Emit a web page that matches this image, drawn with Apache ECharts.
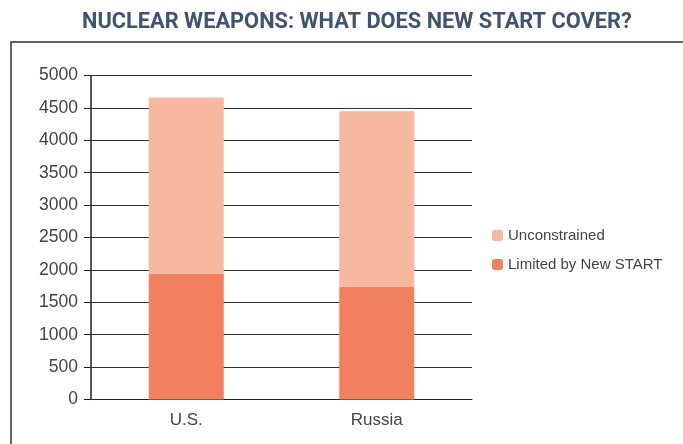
<!DOCTYPE html>
<html>
<head>
<meta charset="utf-8">
<script src="https://cdn.jsdelivr.net/npm/echarts@6/dist/echarts.min.js"></script>
<style>
 html, body { margin: 0; padding: 0; background: #fff; }
 #chart { width: 683px; height: 444px; }
</style>
</head>
<body>
<div id="chart"></div>
<script>
// data
const countries = ['U.S.', 'Russia']
const limited = [1945, 1740]
const unconstrained = [2715, 2710]
const yTicks = [0, 500, 1000, 1500, 2000, 2500, 3000, 3500, 4000, 4500, 5000]

const chart = echarts.init(document.getElementById('chart'))
const option = {
 animation: false,
 title: {
  text: 'NUCLEAR WEAPONS: WHAT DOES NEW START COVER?',
  left: 77,
  top: 7,
  textStyle: {
   fontFamily: 'Roboto',
   fontWeight: 'bold',
   fontSize: 21.8,
   color: '#3e5470'
  }
 },
 graphic: [{
  type: 'rect',
  shape: { x: 11, y: 42, width: 700, height: 420 },
  style: { fill: 'none', stroke: '#333', lineWidth: 1.5 },
  silent: true
 }],
 legend: {
  orient: 'vertical',
  left: 487,
  top: 223,
  itemWidth: 11,
  itemHeight: 11,
  itemGap: 14,
  data: ['Unconstrained', 'Limited by New START'],
  textStyle: { fontFamily: 'Liberation Sans', fontSize: 15, color: '#444' }
 },
 grid: {
  left: 91,
  right: 211,
  top: 75.5,
  bottom: 44.5
 },
 xAxis: {
  type: 'category',
  data: countries,
  axisLine: { show: true, lineStyle: { color: '#222', width: 1 } },
  axisTick: { show: false },
  axisLabel: { fontFamily: 'Liberation Sans', fontSize: 17, color: '#444', margin: 12 }
 },
 yAxis: {
  type: 'value',
  min: yTicks[0],
  max: yTicks[yTicks.length - 1],
  interval: 500,
  axisLine: { show: true, lineStyle: { color: '#222', width: 1.5 } },
  axisTick: { show: true, length: 7, lineStyle: { color: '#222' } },
  axisLabel: {
   fontFamily: 'Liberation Sans', fontSize: 17.5, color: '#444', margin: 13,
   formatter: v => String(v)
  },
  splitLine: { show: true, lineStyle: { color: '#333', width: 1 } }
 },
 series: [
  {
   name: 'Limited by New START',
   type: 'bar',
   stack: 'total',
   barWidth: 75,
   data: limited,
   itemStyle: { color: '#f1805f' }
  },
  {
   name: 'Unconstrained',
   type: 'bar',
   stack: 'total',
   barWidth: 75,
   data: unconstrained,
   itemStyle: { color: '#f6b89e' }
  }
 ]
}
chart.setOption(option)
</script>
</body>
</html>
